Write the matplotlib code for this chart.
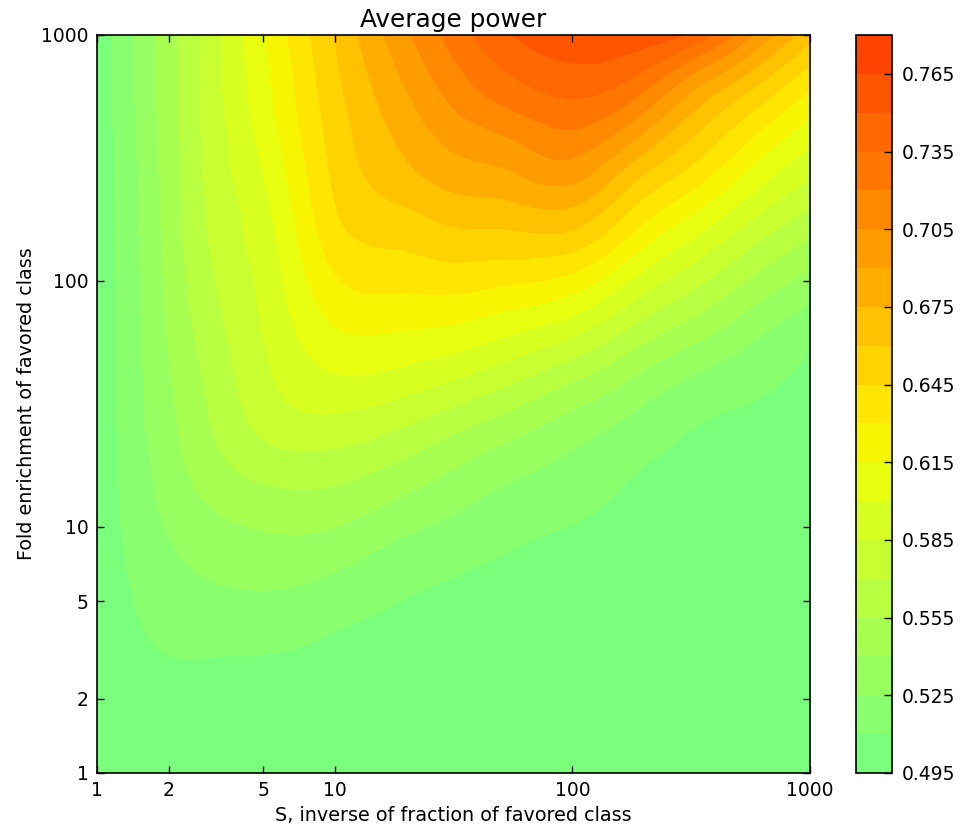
import numpy as np
import matplotlib
matplotlib.use("Agg")
import matplotlib.pyplot as plt
import matplotlib.tri as mtri
from matplotlib.colors import Normalize
from matplotlib.ticker import FixedLocator, FixedFormatter, NullLocator, FormatStrFormatter

# grid positions where values were read (about 4 per decade)
s_vals = [1, 1.78, 3.16, 5.62, 10, 17.8, 31.6, 56.2, 100, 178, 316, 562, 1000]
fold_vals = [1, 1.78, 3.16, 5.62, 10, 17.8, 31.6, 56.2, 100, 178, 316, 562, 1000]

# average power, one row per fold enrichment value (columns follow s_vals)
pw_f1    = [0.500, 0.500, 0.500, 0.500, 0.500, 0.500, 0.500, 0.500, 0.500, 0.500, 0.500, 0.500, 0.500]
pw_f1_8  = [0.500, 0.5047, 0.505, 0.505, 0.5044, 0.5037, 0.5032, 0.5028, 0.5024, 0.502, 0.5018, 0.5016, 0.5012]
pw_f3_2  = [0.500, 0.5097, 0.511, 0.5105, 0.5075, 0.506, 0.5058, 0.5052, 0.5049, 0.504, 0.5037, 0.5033, 0.5025]
pw_f5_6  = [0.500, 0.516, 0.5236, 0.5253, 0.520, 0.5125, 0.5085, 0.5068, 0.506, 0.5052, 0.505, 0.5045, 0.5037]
pw_f10   = [0.500, 0.5225, 0.5364, 0.5417, 0.540, 0.5297, 0.5213, 0.5135, 0.5097, 0.5065, 0.5062, 0.506, 0.505]
pw_f18   = [0.500, 0.5275, 0.5508, 0.5629, 0.563, 0.554, 0.5413, 0.5298, 0.521, 0.5115, 0.5075, 0.507, 0.506]
pw_f32   = [0.500, 0.531, 0.559, 0.5816, 0.5888, 0.5829, 0.5712, 0.5577, 0.5427, 0.5282, 0.515, 0.5098, 0.507]
pw_f56   = [0.500, 0.5335, 0.5646, 0.5896, 0.6098, 0.6107, 0.6055, 0.5948, 0.5813, 0.5595, 0.5413, 0.525, 0.5115]
pw_f100  = [0.500, 0.5355, 0.570, 0.5954, 0.6279, 0.6344, 0.6364, 0.632, 0.6244, 0.5985, 0.5755, 0.553, 0.535]
pw_f178  = [0.500, 0.537, 0.5745, 0.6016, 0.6422, 0.6543, 0.6632, 0.6655, 0.6667, 0.6383, 0.612, 0.5857, 0.5642]
pw_f316  = [0.500, 0.5385, 0.578, 0.6096, 0.6493, 0.6716, 0.6881, 0.6964, 0.705, 0.678, 0.6491, 0.6198, 0.595]
pw_f562  = [0.500, 0.540, 0.5805, 0.6167, 0.6546, 0.6831, 0.7088, 0.7265, 0.736, 0.7225, 0.6867, 0.6553, 0.6263]
pw_f1000 = [0.500, 0.5405, 0.5815, 0.622, 0.6605, 0.6957, 0.7264, 0.750, 0.761, 0.759, 0.747, 0.7068, 0.665]

levels = [0.495, 0.51, 0.525, 0.54, 0.555, 0.57, 0.585, 0.60, 0.615, 0.63,
          0.645, 0.66, 0.675, 0.69, 0.705, 0.72, 0.735, 0.75, 0.765, 0.78]
tick_vals = [1, 2, 5, 10, 100, 1000]

power = np.array([pw_f1, pw_f1_8, pw_f3_2, pw_f5_6, pw_f10, pw_f18, pw_f32,
                  pw_f56, pw_f100, pw_f178, pw_f316, pw_f562, pw_f1000])

# smooth the coarse reading with matplotlib's cubic triangulation refiner (in log space)
LS, LF = np.meshgrid(np.log10(s_vals), np.log10(fold_vals))
tri_log = mtri.Triangulation(LS.ravel(), LF.ravel())
interp = mtri.CubicTriInterpolator(tri_log, power.ravel(), kind="min_E")
tri_fine, z_fine = mtri.UniformTriRefiner(tri_log).refine_field(power.ravel(), interp, subdiv=4)
tri_plot = mtri.Triangulation(10 ** tri_fine.x, 10 ** tri_fine.y, tri_fine.triangles)
z_fine = np.clip(z_fine, levels[0] + 1e-4, levels[-2] - 1e-4)

plt.rcParams["font.size"] = 13.5
plt.rcParams["xtick.direction"] = "in"
plt.rcParams["ytick.direction"] = "in"

fig = plt.figure(figsize=(9.69, 8.27), dpi=100)
ax = fig.add_axes([0.1001, 0.0653, 0.7358, 0.8924])
cax = fig.add_axes([0.8834, 0.0653, 0.0372, 0.8924])

cs = ax.tricontourf(tri_plot, z_fine, levels=levels, cmap="jet", norm=Normalize(0.11, 0.90))
ax.set_xscale("log")
ax.set_yscale("log")
ax.set_xlim(1, 1000)
ax.set_ylim(1, 1000)
for axis in (ax.xaxis, ax.yaxis):
    axis.set_major_locator(FixedLocator(tick_vals))
    axis.set_major_formatter(FixedFormatter([str(t) for t in tick_vals]))
    axis.set_minor_locator(NullLocator())
ax.tick_params(which="major", length=5, width=1, top=True, right=True, pad=6)
for sp in ax.spines.values():
    sp.set_linewidth(1.2)

ax.set_xlabel("S, inverse of fraction of favored class", fontsize=13.8)
ax.set_ylabel("Fold enrichment of favored class", fontsize=13.8)
ax.set_title("Average power", fontsize=17.8, pad=6)

cb = fig.colorbar(cs, cax=cax, ticks=levels[::2])
cb.ax.yaxis.set_major_formatter(FormatStrFormatter("%.3f"))
cb.ax.tick_params(direction="in", length=6, width=1, pad=7)
cb.outline.set_linewidth(1.2)

fig.savefig("out.png", dpi=100)
